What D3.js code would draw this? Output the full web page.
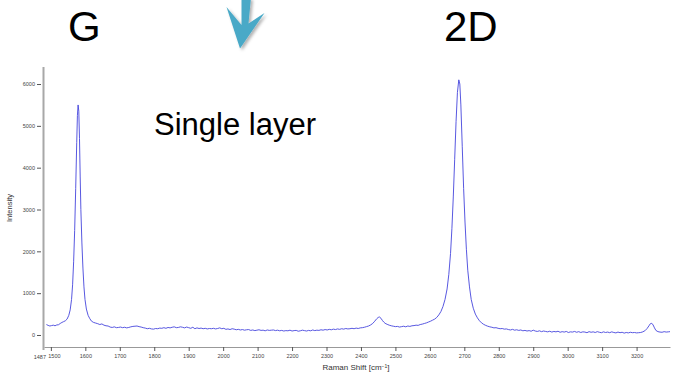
<!DOCTYPE html>
<html>
<head>
<meta charset="utf-8">
<script src="https://cdn.jsdelivr.net/npm/d3@7"></script>
<style>
  body { margin: 0; background: #fff; }
  svg { display: block; font-family: Arial, "Liberation Sans", sans-serif; }
</style>
</head>
<body>
<svg id="chart" width="683" height="375"></svg>
<script>
// Raman spectrum (cm-1 vs counts)
var shift = [1487,1492,1497,1502,1507,1512,1517,1522,1527,1532,1537,1542,1547,1552,1556,1560,1563,1566,1569,1572,
  1575,1577,1579,1581,1583,1585,1587,1590,1593,1596,1599,1603,1608,1613,1618,1624,1630,1636,1642,1648,
  1654,1660,1666,1672,1678,1684,1690,1696,1702,1708,1714,1720,1726,1732,1738,1744,1750,1756,1762,1768,
  1774,1780,1786,1792,1798,1804,1810,1816,1822,1828,1834,1840,1846,1852,1858,1864,1870,1876,1882,1888,
  1894,1900,1906,1912,1918,1924,1930,1936,1942,1948,1954,1960,1966,1972,1978,1984,1990,1996,2002,2008,
  2014,2020,2026,2032,2038,2044,2050,2056,2062,2068,2074,2080,2086,2092,2098,2104,2110,2116,2122,2128,
  2134,2140,2146,2152,2158,2164,2170,2176,2182,2188,2194,2200,2206,2212,2218,2224,2230,2236,2242,2248,
  2254,2260,2266,2272,2278,2284,2290,2296,2302,2308,2314,2320,2326,2332,2338,2344,2350,2356,2362,2368,
  2374,2380,2386,2392,2398,2404,2410,2416,2422,2428,2434,2440,2446,2450,2454,2458,2462,2466,2470,2476,
  2482,2488,2494,2500,2506,2512,2518,2524,2530,2536,2542,2548,2554,2560,2566,2572,2578,2584,2590,2596,
  2602,2608,2614,2620,2626,2632,2638,2644,2650,2655,2660,2664,2668,2672,2676,2680,2684,2687,2690,2694,
  2698,2702,2706,2710,2715,2720,2726,2732,2738,2744,2750,2756,2762,2768,2774,2780,2786,2792,2798,2804,
  2810,2816,2822,2828,2834,2840,2846,2852,2858,2864,2870,2876,2882,2888,2894,2900,2906,2912,2918,2924,
  2930,2936,2942,2948,2954,2960,2966,2972,2978,2984,2990,2996,3002,3008,3014,3020,3026,3032,3038,3044,
  3050,3056,3062,3068,3074,3080,3086,3092,3098,3104,3110,3116,3122,3128,3134,3140,3146,3152,3158,3164,
  3170,3176,3182,3188,3194,3200,3206,3212,3218,3224,3230,3236,3240,3244,3248,3252,3256,3262,3268,3274,
  3280,3286,3292,3297];
var intensity = [250,230,215,225,235,220,240,245,275,300,320,340,380,470,600,850,1200,1750,2500,3500,
  4600,5250,5500,5350,4700,3800,3000,2200,1600,1150,850,620,470,390,330,300,285,270,250,265,
  235,220,215,190,180,195,175,180,190,175,185,170,180,195,205,210,215,200,190,175,
  165,150,160,145,140,155,150,165,160,175,160,180,170,185,195,175,180,195,185,170,
  190,175,160,185,150,170,155,165,150,160,145,155,150,160,145,155,170,150,160,135,
  145,130,150,140,125,135,120,130,115,125,130,110,120,105,115,125,110,115,100,120,
  110,115,120,105,115,100,110,95,105,100,115,95,105,110,90,100,115,105,95,110,
  100,120,105,115,110,125,115,130,120,135,125,140,130,145,135,150,140,155,145,150,
  160,150,165,155,170,175,185,200,215,240,275,330,390,420,430,400,350,310,280,255,
  235,220,210,200,205,190,200,210,195,215,205,220,225,235,230,250,260,275,290,310,
  330,355,380,420,480,560,680,850,1100,1450,1950,2550,3300,4200,5100,5800,6100,6000,5500,4500,
  3500,2700,2050,1550,1150,850,640,500,410,340,290,255,230,210,195,185,170,175,160,150,
  155,140,145,130,120,135,115,125,110,120,100,110,95,105,90,115,95,85,100,80,
  95,85,75,90,70,85,75,90,65,80,70,85,60,75,70,85,65,80,60,75,
  70,55,80,65,75,60,80,65,55,75,60,70,55,75,60,50,70,55,65,45,
  60,50,65,55,60,50,55,60,75,100,150,220,270,280,240,170,110,80,70,65,
  80,70,75,80];
var xTicks = d3.range(1500, 3201, 100);
var yTicks = [0, 1000, 2000, 3000, 4000, 5000, 6000];
var startLabel = "1487";
var peakLabels = ["G", "2D"];
var note = "Single layer";

var svg = d3.select("#chart");
var font = 'Arial, "Liberation Sans", sans-serif';

var x = d3.scaleLinear().domain([1480, 3297]).range([44, 670]);
var y = d3.scaleLinear().domain([-287, 6407]).range([347, 67]);

// y axis: ticks a little left of the grey spine
var yAxis = svg.append("g")
  .attr("transform", "translate(41,0)")
  .call(d3.axisLeft(y).tickValues(yTicks).tickFormat(d3.format("d"))
    .tickSize(4).tickPadding(2).tickSizeOuter(0));
yAxis.select(".domain").remove();
yAxis.selectAll("line").attr("stroke", "#555");
yAxis.selectAll("text").attr("fill", "#444").style("font-size", "5.5px").style("font-family", font);

svg.append("line")
  .attr("x1", 43.5).attr("x2", 43.5).attr("y1", 67).attr("y2", 350)
  .attr("stroke", "#a8a8a8").attr("stroke-width", 2);

var xAxis = svg.append("g")
  .attr("transform", "translate(0,347)")
  .call(d3.axisBottom(x).tickValues(xTicks).tickFormat(d3.format("d"))
    .tickSize(4).tickPadding(3).tickSizeOuter(0));
xAxis.select(".domain").attr("stroke", "#999");
xAxis.selectAll("line").attr("stroke", "#555");
xAxis.selectAll("text").attr("fill", "#444").style("font-size", "5.5px").style("font-family", font);
xAxis.selectAll("text").filter(function(d) { return d == 1500; }).attr("dx", 3);

svg.append("text")
  .attr("x", 46).attr("y", 358.5)
  .attr("text-anchor", "end")
  .attr("fill", "#444").style("font-size", "5.5px").style("font-family", font)
  .text(startLabel);

// axis titles
svg.append("text")
  .attr("transform", "translate(12,208) rotate(-90)")
  .attr("text-anchor", "middle")
  .attr("fill", "#333").style("font-size", "7.5px").style("font-family", font)
  .text("Intensity");

var xt = svg.append("text")
  .attr("x", 356).attr("y", 370)
  .attr("text-anchor", "middle")
  .attr("fill", "#333").style("font-size", "8px").style("font-family", font);
xt.append("tspan").text("Raman Shift [cm");
xt.append("tspan").attr("dy", -2.5).style("font-size", "5px").text("\u22121");
xt.append("tspan").attr("dy", 2.5).text("]");

// spectrum
var line = d3.line()
  .x(function(d, i) { return x(shift[i]); })
  .y(function(d) { return y(d); });

svg.append("path")
  .datum(intensity)
  .attr("d", line)
  .attr("fill", "none")
  .attr("stroke", "#4545dd")
  .attr("stroke-width", 0.9)
  .attr("stroke-linejoin", "round");

// slide annotations
svg.append("text")
  .attr("x", 68).attr("y", 41)
  .attr("fill", "#000").style("font-size", "42px").style("font-family", font)
  .text(peakLabels[0]);

svg.append("text")
  .attr("x", 444).attr("y", 41)
  .attr("fill", "#000").style("font-size", "42px").style("font-family", font)
  .text(peakLabels[1]);

svg.append("text")
  .attr("x", 154).attr("y", 135)
  .attr("fill", "#000").style("font-size", "31px").style("font-family", font)
  .text(note);

// arrow with a soft shadow
var defs = svg.append("defs");
var f = defs.append("filter").attr("id", "shadow").attr("x", "-50%").attr("y", "-50%").attr("width", "200%").attr("height", "200%");
f.append("feDropShadow").attr("dx", 2).attr("dy", 2).attr("stdDeviation", 1.5)
  .attr("flood-color", "#000").attr("flood-opacity", 0.3);

svg.append("polygon")
  .attr("points", "241.5,-2 251,-2 248.5,23.5 264.5,13 240,48.5 226.5,7 241.5,25")
  .attr("fill", "#4aa9c7")
  .attr("filter", "url(#shadow)");
</script>
</body>
</html>
